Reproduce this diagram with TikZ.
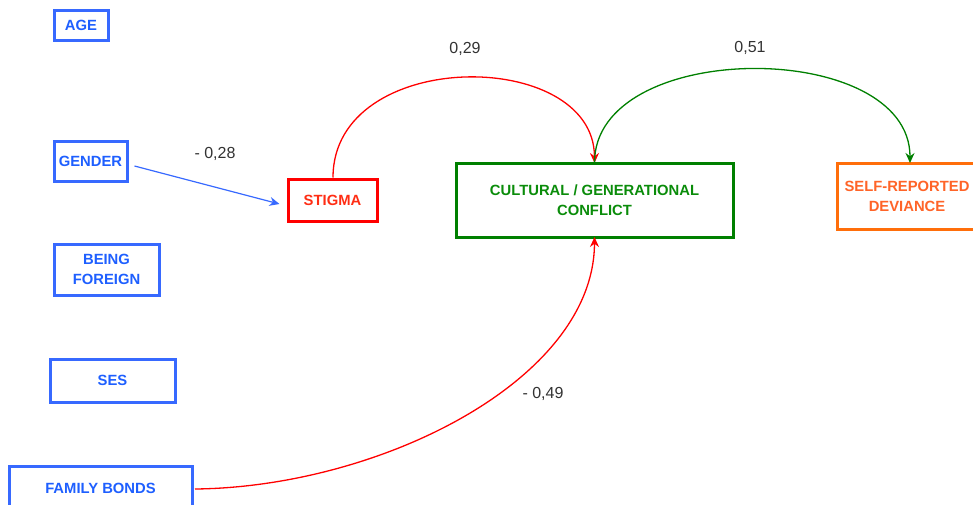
\documentclass[tikz,border=0pt]{standalone}
\usepackage{fontspec}
\setmainfont{Liberation Sans}
\usetikzlibrary{arrows.meta}
\definecolor{bblue}{RGB}{55,105,255}
\definecolor{tblue}{RGB}{30,95,255}
\definecolor{rred}{RGB}{255,0,0}
\definecolor{tred}{RGB}{255,45,20}
\definecolor{ggreen}{RGB}{0,128,0}
\definecolor{tgreen}{RGB}{10,140,10}
\definecolor{oorange}{RGB}{255,110,10}
\definecolor{torange}{RGB}{255,100,40}
\definecolor{lblgray}{RGB}{50,50,50}
\tikzset{
  varbox/.style={draw, line width=3pt, inner sep=0pt, align=center,
    font=\fontsize{14.8}{20}\selectfont\bfseries},
  bluebox/.style={varbox, draw=bblue, text=tblue},
  coef/.style={text=lblgray, font=\fontsize{16}{18}\selectfont},
  conn/.style={line width=1.3pt, -{Stealth[length=10pt,width=9pt]}}
}
\begin{document}
\begin{tikzpicture}[x=1pt,y=-1pt]
\useasboundingbox (0,0) rectangle (973,504);
\clip (0,0) rectangle (973,504);
% left column
\node[bluebox, minimum width=54pt, minimum height=30pt] (age) at (81,25) {AGE};
\node[bluebox, minimum width=73pt, minimum height=40pt] (gender) at (90.5,161) {GENDER};
\node[bluebox, minimum width=105pt, minimum height=51pt] (foreign) at (106.5,269.5) {BEING\\FOREIGN};
\node[bluebox, minimum width=125pt, minimum height=43pt] (ses) at (112.5,380.5) {SES};
\node[bluebox, minimum width=183pt, minimum height=44pt] (family) at (100.5,488) {FAMILY BONDS};
% mediators and outcome
\node[varbox, draw=rred, text=tred, minimum width=89pt, minimum height=42pt] (stigma) at (332.5,200) {STIGMA};
\node[varbox, draw=ggreen, text=tgreen, minimum width=277pt, minimum height=74pt] (conflict) at (594.5,200) {CULTURAL / GENERATIONAL\\CONFLICT};
\node[varbox, draw=oorange, text=torange, minimum width=140pt, minimum height=66pt] (deviance) at (907,196) {SELF-REPORTED\\DEVIANCE};
% connectors
\draw[conn, bblue, line width=1.2pt] ([xshift=6pt,yshift=-5pt]gender.east) -- ([xshift=-7pt,yshift=-4pt]stigma.west);
\draw[conn, rred] ([xshift=0.5pt]stigma.north) .. controls (333,47) and (594,47) .. ([yshift=-1.5pt]conflict.north);
\draw[conn, ggreen] ([yshift=-1.5pt]conflict.north) .. controls (594,38) and (910,38) .. ([xshift=3pt,yshift=-1.5pt]deviance.north);
\draw[conn, rred] ([xshift=1.5pt,yshift=-1pt]family.east) .. controls (380,487) and (594,380) .. ([yshift=1.5pt]conflict.south);
% coefficients
\node[coef] (c1) at (215,154) {- 0,28};
\node[coef] (c2) at (465,49) {0,29};
\node[coef] (c3) at (750,48) {0,51};
\node[coef] (c4) at (543,394) {- 0,49};
\end{tikzpicture}
\end{document}
